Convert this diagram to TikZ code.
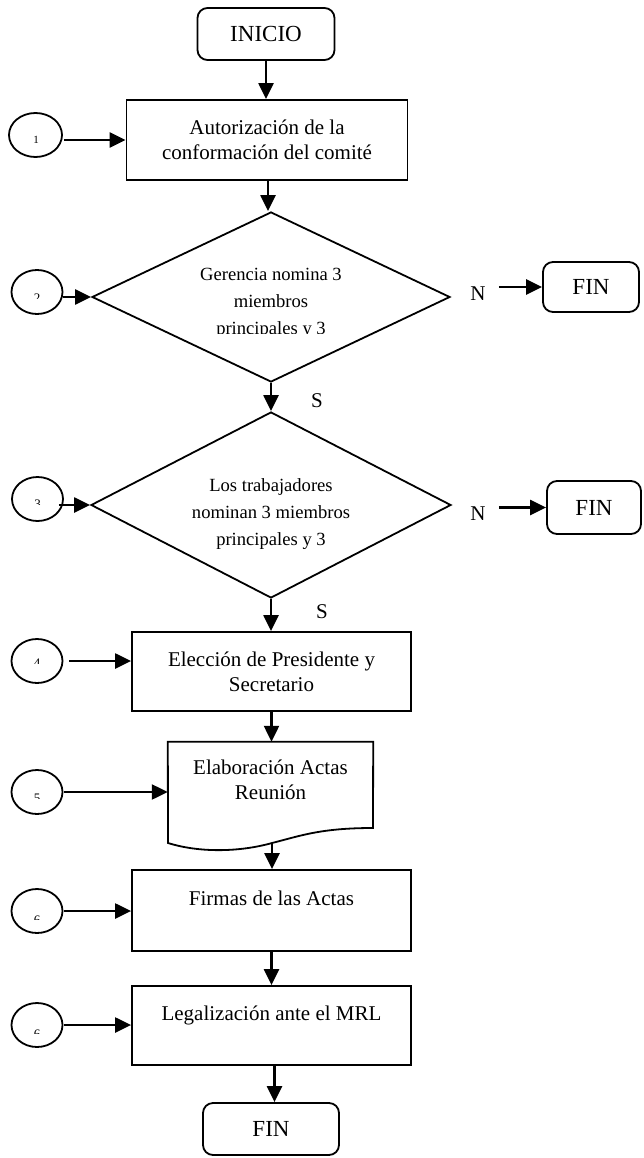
\documentclass[tikz,border=0pt]{standalone}
\usepackage{fontspec}
\setmainfont{Liberation Serif}
\usetikzlibrary{arrows.meta,shapes.geometric}

\tikzset{
  conn/.style={line width=2.3pt, -{Triangle[length=16pt,width=15pt]}},
  proc/.style={draw, line width=1.8pt, rectangle, inner sep=0pt, align=center,
    font=\fontsize{21}{25}\selectfont},
  term/.style={draw, line width=1.8pt, rounded corners=10pt, inner sep=0pt,
    font=\fontsize{23}{27}\selectfont},
  decision/.style={draw, diamond, line width=1.8pt, inner sep=0pt},
  dtext/.style={inner sep=0pt, align=center, font=\fontsize{18.6}{26.7}\selectfont},
  numc/.style={draw, ellipse, line width=1.8pt, minimum width=51pt,
    minimum height=44pt, inner sep=0pt},
  numt/.style={inner sep=0pt, font=\fontsize{13}{13}\selectfont},
  lbl/.style={inner sep=0pt, font=\fontsize{21}{21}\selectfont},
}

\begin{document}
\begin{tikzpicture}[x=1pt, y=-1pt]
\useasboundingbox (0,0) rectangle (643,1158);

% main column
\node[term, minimum width=137pt, minimum height=52pt] (inicio) at (266,34) {INICIO};
\node[proc, minimum width=281pt, minimum height=80pt] (autor) at (267,140)
  {Autorización de la\\conformación del comité};
\node[decision, minimum width=358pt, minimum height=170pt] (d1) at (271,297) {};
\node[decision, minimum width=360pt, minimum height=186pt] (d2) at (271,505) {};
\node[proc, minimum width=279pt, minimum height=79pt] (elec) at (271.5,671.5)
  {Elección de Presidente y\\Secretario};
\node[minimum width=205pt, minimum height=101pt, inner sep=0pt] (doc) at (270.5,792.5) {};
\node[proc, minimum width=279pt, minimum height=81pt] (firmas) at (271.5,910.5)
  {Firmas de las Actas\\~};
\node[proc, minimum width=279pt, minimum height=79pt] (legal) at (271.5,1025.5)
  {Legalización ante el MRL\\~};
\node[term, minimum width=136pt, minimum height=52pt] (fin3) at (271,1129) {FIN};

% decision texts
\begin{scope}
  \clip (92,200) rectangle (450,333);
  \node[dtext] (d1text) at (271,303.5) {Gerencia nomina 3\\miembros\\principales y 3};
\end{scope}
\node[dtext] (d2text) at (271,514) {Los trabajadores\\nominan 3 miembros\\principales y 3};

% document outline with wavy bottom
\coordinate (docwave) at (272,843);
\draw[line width=1.8pt] (doc.north east) -- (373,828)
  .. controls (320,828) and (300,836) .. (docwave)
  .. controls (240,852) and (200,853) .. (168,843) -- (doc.north west) -- cycle;
\node[dtext, font=\fontsize{21}{25}\selectfont] (doctext) at (270.5,780)
  {Elaboración Actas\\Reunión};

% side exits
\node[lbl] (n1) at (478,294) {N};
\node[term, minimum width=96pt, minimum height=50pt] (fin1) at (591,287) {FIN};
\node[lbl] (n2) at (478,514) {N};
\node[term, minimum width=94pt, minimum height=53pt] (fin2) at (594,507.5) {FIN};
\node[lbl] (s1) at (317,401) {S};
\node[lbl] (s2) at (322,612) {S};

% step markers (numbers cut off by their frames)
\node[numc, minimum width=53pt] (c1) at (35.5,135) {};
\node[numc] (c2) at (37,292) {};
\node[numc] (c3) at (37.5,499) {};
\node[numc] (c4) at (37,661) {};
\node[numc] (c5) at (37,792) {};
\node[numc] (c6) at (37,911) {};
\node[numc] (c7) at (37,1025) {};

\node[numt, font=\fontsize{11}{11}\selectfont] (t1) at (36,139.5) {1};
\begin{scope}\clip (10,200) rectangle (64,298); \node[numt] (t2) at (37,298.5) {2};\end{scope}
\begin{scope}\clip (10,400) rectangle (64,504); \node[numt] (t3) at (37.5,504.5) {3};\end{scope}
\begin{scope}\clip (10,600) rectangle (64,663); \node[numt] (t4) at (37,663.5) {4};\end{scope}
\begin{scope}\clip (10,700) rectangle (64,798); \node[numt] (t5) at (37,798.5) {5};\end{scope}
\begin{scope}\clip (10,850) rectangle (64,919); \node[numt] (t6) at (37,920) {6};\end{scope}
\begin{scope}\clip (10,990) rectangle (64,1033); \node[numt] (t7) at (37,1034) {6};\end{scope}

% flow connectors
\draw[conn] (inicio.south) -- (inicio.south |- autor.north);
\draw[conn] ([xshift=1pt]autor.south) -- ([xshift=1pt]autor.south |- d1.north);
\draw[conn] (d1.south) -- (d2.north);
\draw[conn] (d2.south) -- (d2.south |- elec.north);
\draw[conn] (elec.south) -- (elec.south |- doc.north);
\draw[conn] (docwave) -- (docwave |- firmas.north);
\draw[conn] (firmas.south) -- (legal.north);
\draw[conn] ([xshift=3pt]legal.south) -- ([xshift=3pt]legal.south |- fin3.north);

\draw[conn] ([xshift=13pt]n1.east |- fin1.west) -- (fin1.west);
\draw[conn] ([xshift=13pt]n2.east |- fin2.west) -- (fin2.west);

\draw[conn] ([xshift=1pt]c1.east |- autor.west) -- (autor.west);
\draw[conn] (c2.east |- d1.west) -- (d1.west);
\draw[conn] ([xshift=-5pt]c3.east |- d2.west) -- (d2.west);
\draw[conn] ([xshift=6pt]c4.east) -- (c4.east -| elec.west);
\draw[conn] ([xshift=1pt]c5.east) -- (c5.east -| doc.west);
\draw[conn] ([xshift=1pt]c6.east) -- (c6.east -| firmas.west);
\draw[conn] ([xshift=1pt]c7.east) -- (c7.east -| legal.west);
\end{tikzpicture}
\end{document}
